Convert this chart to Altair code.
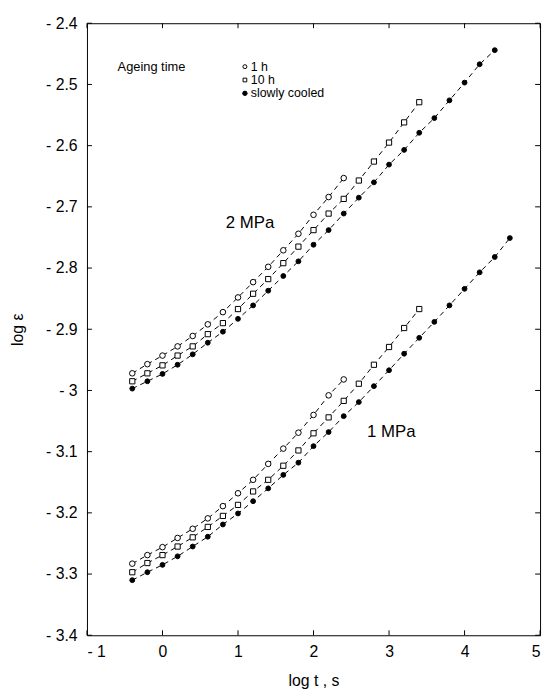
import altair as alt
import pandas as pd

# ---------------- data ----------------
logt = [-0.4, -0.2, 0.0, 0.2, 0.4, 0.6, 0.8, 1.0, 1.2, 1.4, 1.6, 1.8, 2.0,
        2.2, 2.4, 2.6, 2.8, 3.0, 3.2, 3.4, 3.6, 3.8, 4.0, 4.2, 4.4, 4.6]

series_names = ["1 h", "10 h", "slowly cooled"]

# 2 MPa
h1_2mpa = [-2.972, -2.957, -2.943, -2.928, -2.911, -2.892, -2.872, -2.848,
           -2.823, -2.798, -2.771, -2.744, -2.713, -2.684, -2.653]
h10_2mpa = [-2.985, -2.972, -2.959, -2.943, -2.928, -2.908, -2.890, -2.867,
            -2.842, -2.818, -2.792, -2.765, -2.738, -2.711, -2.687, -2.657,
            -2.626, -2.595, -2.562, -2.529]
sc_2mpa = [-2.997, -2.985, -2.973, -2.958, -2.941, -2.922, -2.904, -2.883,
           -2.861, -2.837, -2.813, -2.789, -2.762, -2.738, -2.711, -2.685,
           -2.660, -2.631, -2.607, -2.579, -2.555, -2.526, -2.497, -2.467,
           -2.444]

# 1 MPa
h1_1mpa = [-3.283, -3.269, -3.256, -3.241, -3.226, -3.209, -3.189, -3.168,
           -3.146, -3.120, -3.095, -3.069, -3.040, -3.008, -2.982]
h10_1mpa = [-3.297, -3.282, -3.269, -3.255, -3.240, -3.223, -3.205, -3.187,
            -3.165, -3.146, -3.123, -3.098, -3.070, -3.044, -3.017, -2.989,
            -2.958, -2.929, -2.898, -2.867]
sc_1mpa = [-3.310, -3.297, -3.285, -3.271, -3.255, -3.239, -3.219, -3.201,
           -3.181, -3.160, -3.138, -3.118, -3.091, -3.068, -3.042, -3.019,
           -2.993, -2.967, -2.940, -2.914, -2.888, -2.861, -2.834, -2.807,
           -2.782, -2.751]

pressure_labels = ["2 MPa", "1 MPa"]
pressure_label_x = [1.16, 3.03]
pressure_label_y = [-2.727, -3.068]

x_ticks = [-1, 0, 1, 2, 3, 4, 5]
y_ticks = [-3.4, -3.3, -3.2, -3.1, -3.0, -2.9, -2.8, -2.7, -2.6, -2.5, -2.4]

# ---------------- tables ----------------
rows = []
for pname, sets in [("2 MPa", [h1_2mpa, h10_2mpa, sc_2mpa]),
                    ("1 MPa", [h1_1mpa, h10_1mpa, sc_1mpa])]:
    for sname, vals in zip(series_names, sets):
        for t, v in zip(logt, vals):
            rows.append({"logt": t, "loge": v, "series": sname,
                         "group": pname + " " + sname})
df = pd.DataFrame(rows)

labels_df = pd.DataFrame({"text": pressure_labels, "x": pressure_label_x,
                          "y": pressure_label_y})
xt_df = pd.DataFrame({"v": x_ticks})
yt_df = pd.DataFrame({"v": y_ticks})

# ---------------- layout ----------------
W, H = 459, 620
FONT = "Liberation Sans"

xs = alt.Scale(domain=[-1, 5], nice=False, zero=False)
ys = alt.Scale(domain=[-3.4, -2.4], nice=False, zero=False)

neg_label = "datum.value < 0 ? '- ' + format(-datum.value, '~g') : format(datum.value, '~g')"

x_axis = alt.Axis(values=x_ticks, labelExpr=neg_label, title="log t , s",
                  labelPadding=9, titlePadding=13)
y_axis = alt.Axis(values=y_ticks, labelExpr=neg_label, title="log ε",
                  labelPadding=10, titlePadding=20)


def X(field):
    return alt.X(field, type="quantitative", scale=xs, axis=x_axis, title="log t , s")


def Y(field):
    return alt.Y(field, type="quantitative", scale=ys, axis=y_axis, title="log ε")


shape_scale = alt.Scale(domain=series_names, range=["circle", "square", "circle"])
fill_scale = alt.Scale(domain=series_names, range=["white", "white", "black"])
size_scale = alt.Scale(domain=series_names, range=[32, 24, 40])

lines = alt.Chart(df).mark_line(
    color="black", strokeWidth=1, strokeDash=[5, 4]
).encode(x=X("logt"), y=Y("loge"), detail="group:N", order="logt:Q")

points = alt.Chart(df).mark_point(
    filled=True, stroke="black", strokeWidth=1, opacity=1
).encode(
    x=X("logt"), y=Y("loge"),
    shape=alt.Shape("series:N", scale=shape_scale, legend=None),
    fill=alt.Fill("series:N", scale=fill_scale, legend=None),
    size=alt.Size("series:N", scale=size_scale, legend=None),
)

plabels = alt.Chart(labels_df).mark_text(
    font=FONT, fontSize=17, align="center", baseline="middle", color="black"
).encode(x=X("x"), y=Y("y"), text="text:N")

# inward ticks on all four sides
tick_len = 5
yt_left = alt.Chart(yt_df).mark_rule(color="black", strokeWidth=1).encode(
    y=Y("v"), x=alt.value(0), x2=alt.value(tick_len))
yt_right = alt.Chart(yt_df).mark_rule(color="black", strokeWidth=1).encode(
    y=Y("v"), x=alt.value(W - tick_len), x2=alt.value(W))
xt_bottom = alt.Chart(xt_df).mark_rule(color="black", strokeWidth=1).encode(
    x=X("v"), y=alt.value(H - tick_len), y2=alt.value(H))
xt_top = alt.Chart(xt_df).mark_rule(color="black", strokeWidth=1).encode(
    x=X("v"), y=alt.value(0), y2=alt.value(tick_len))

# custom legend
leg_rows = [44, 57.5, 71]
leg_sizes = [16, 14, 20]
leg_shapes = ["circle", "square", "circle"]
leg_fills = ["white", "white", "black"]
LEG_FS = 12.5
legend_layers = [
    alt.Chart(pd.DataFrame({"t": ["Ageing time"]})).mark_text(
        font=FONT, fontSize=LEG_FS + 0.5, align="left", baseline="middle", color="black"
    ).encode(x=alt.value(31), y=alt.value(leg_rows[0]), text="t:N")
]
for name, yy, sz, shp, fl in zip(series_names, leg_rows, leg_sizes, leg_shapes, leg_fills):
    ldf = pd.DataFrame({"t": [name]})
    legend_layers.append(
        alt.Chart(ldf).mark_point(shape=shp, filled=True, fill=fl, stroke="black",
                                  strokeWidth=1, size=sz, opacity=1)
        .encode(x=alt.value(160), y=alt.value(yy))
    )
    legend_layers.append(
        alt.Chart(ldf).mark_text(font=FONT, fontSize=LEG_FS, align="left",
                                 baseline="middle", color="black")
        .encode(x=alt.value(166), y=alt.value(yy), text="t:N")
    )

chart = alt.layer(
    yt_left, yt_right, xt_bottom, xt_top, lines, points, plabels, *legend_layers
).properties(
    width=W, height=H,
    autosize=alt.AutoSizeParams(type="none"),
    padding={"left": 80, "top": 11, "right": 5, "bottom": 50},
).configure_view(
    stroke="black", strokeWidth=1
).configure_axis(
    domain=False, ticks=False, tickSize=0, grid=False,
    labelFont=FONT, labelFontSize=16, labelColor="black",
    titleFont=FONT, titleFontSize=16, titleFontWeight="normal", titleColor="black",
)

chart.save("out.html", embed_options={"renderer": "svg", "actions": False})
